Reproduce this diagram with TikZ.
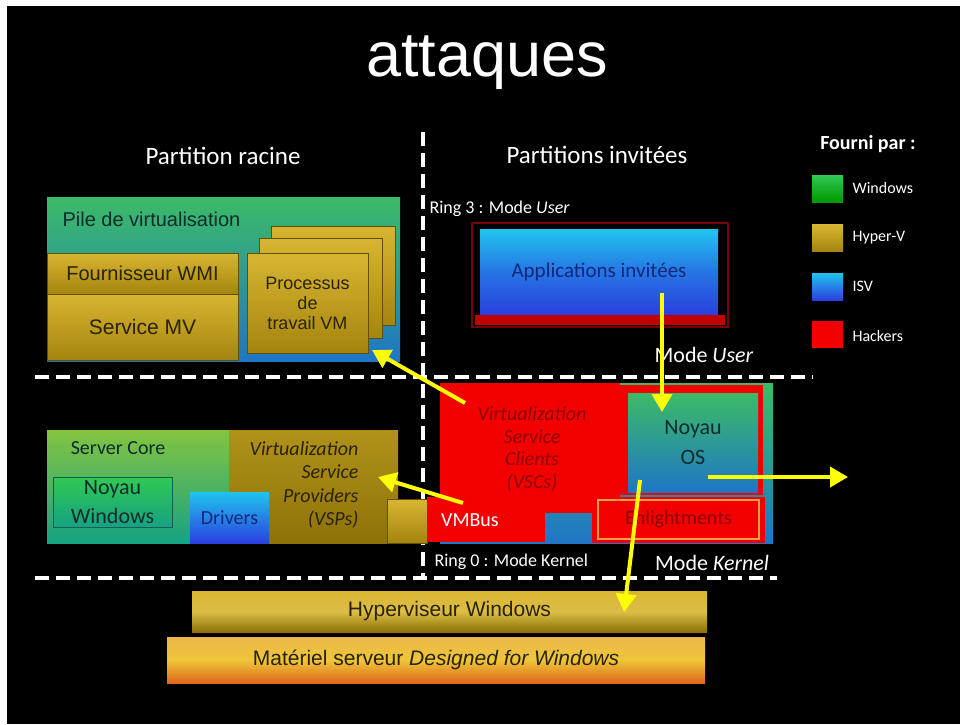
\documentclass[tikz,border=0pt]{standalone}
\usepackage{fontspec}
\setmainfont{Carlito}
\newfontfamily\arialfont{Liberation Sans}
\usetikzlibrary{arrows.meta}

\definecolor{wintop}{HTML}{3CBB66}
\definecolor{winbot}{HTML}{1F76C6}
\definecolor{coretop}{HTML}{84C440}
\definecolor{corebot}{HTML}{16A283}
\definecolor{goldtop}{HTML}{D8B632}
\definecolor{goldbot}{HTML}{A4840E}
\definecolor{vsptop}{HTML}{B0921A}
\definecolor{vspbot}{HTML}{8E7208}
\definecolor{isvtop}{HTML}{20C4EE}
\definecolor{isvbot}{HTML}{2A40DE}
\definecolor{hackred}{HTML}{F20000}
\definecolor{darkframe}{HTML}{7A0000}
\definecolor{hwtop}{HTML}{EAB848}
\definecolor{hwbot}{HTML}{E0661A}
\definecolor{inkdark}{HTML}{2A2200}
\definecolor{inkteal}{HTML}{0C2C2C}
\definecolor{inknavy}{HTML}{12287A}
\definecolor{inkred}{HTML}{8E0000}
\definecolor{arrowyellow}{HTML}{FFFF00}
\definecolor{enlorange}{HTML}{FFA040}

\tikzset{
  blk/.style={
      rectangle,
      inner sep=0pt,
      outer sep=0pt
    },
  winbox/.style={
      blk,
      top color=wintop,
      bottom color=winbot
    },
  corebox/.style={
      blk,
      top color=coretop,
      bottom color=corebot
    },
  hvbox/.style={
      blk,
      top color=goldtop,
      bottom color=goldbot,
      draw=goldbot!60!black,
      line width=0.8pt
    },
  isvbox/.style={
      blk,
      top color=isvtop,
      bottom color=isvbot
    },
  hackbox/.style={
      blk,
      fill=hackred
    },
  title/.style={
      font=\arialfont\fontsize{63}{63}\selectfont,
      text=white
    },
  head/.style={
      font=\fontsize{25}{28}\selectfont,
      text=white
    },
  small/.style={
      font=\fontsize{18}{20}\selectfont,
      text=white
    },
  legend/.style={
      font=\fontsize{16}{18}\selectfont,
      text=white,
      anchor=west
    },
  mode/.style={
      font=\fontsize{22}{24}\selectfont,
      text=white
    },
  sepline/.style={
      white,
      line width=4.5pt,
      dash pattern=on 14pt off 7pt
    },
  yarr/.style={
      -{Triangle[length=18pt,width=20pt]},
      line width=4pt,
      arrowyellow
    }
}

\begin{document}
\begin{tikzpicture}[x=1pt,y=-1pt]
  \useasboundingbox (0,0) rectangle (960,724);
  \fill[white] (0,0) rectangle (960,724);
  \fill[black] (7,6) rectangle (960,724);

  \node[title] (ttl) at (487,63) {attaques};
  \node[head] (rootlbl) at (223,156) {Partition racine};
  \node[head] (guestlbl) at (597,155) {Partitions invitées};

  % separations
  \draw[sepline] (423,132) -- (423,578);
  \draw[sepline] (35,377) -- (813,377);
  \draw[sepline] (35,578) -- (777,578);

  % partition racine, mode user
  \node[winbox, minimum width=353, minimum height=164] (pile) at (223.5,279) {};
  \node[anchor=west, font=\arialfont\fontsize{20}{22}\selectfont, text=inkteal] (pilelbl) at (59,219) {Pile de virtualisation};
  \node[hvbox, minimum width=191, minimum height=41, font=\arialfont\fontsize{20}{22}\selectfont, text=inkdark] (wmi) at (142.5,273.5) {Fournisseur WMI};
  \node[hvbox, minimum width=191, minimum height=66, font=\arialfont\fontsize{21}{22}\selectfont, text=inkdark] (svcmv) at (142.5,327) {Service MV};
  \node[hvbox, minimum width=124, minimum height=99] (proc3) at (333,275.5) {};
  \node[hvbox, minimum width=123, minimum height=100] (proc2) at (320.5,288) {};
  \node[hvbox, minimum width=121, minimum height=100, align=center, font=\arialfont\fontsize{18}{20}\selectfont, text=inkdark] (proc1) at (307.5,303) {Processus\\de\\travail VM};

  % partition racine, mode kernel
  \node[corebox, minimum width=183, minimum height=113] (core) at (138.5,486.5) {};
  \node[font=\fontsize{20}{22}\selectfont, text=inkteal] (corelbl) at (118,448) {Server Core};
  \node[blk, fill=green!55!black!90, top color=wintop!80!green, bottom color=corebot, draw=corebot!60!black, line width=1pt, minimum width=119, minimum height=50, align=center, font=\fontsize{22}{29}\selectfont, text=inkteal] (ntwin) at (112.5,502) {Noyau\\Windows};
  \node[blk, top color=vsptop, bottom color=vspbot, minimum width=169, minimum height=113] (vsp) at (313.5,486.5) {};
  \node[anchor=east, align=right, font=\itshape\fontsize{20}{23.5}\selectfont, text=inkdark] (vsplbl) at (362,485) {Virtualization\\Service\\Providers\\(VSPs)};
  \node[isvbox, minimum width=79, minimum height=51, font=\fontsize{20}{22}\selectfont, text=inknavy] (drv) at (229.5,517.5) {Drivers};
  \node[hvbox, minimum width=40, minimum height=44] (vmbroot) at (407,521) {};

  % partitions invitees, mode user
  \node[small, anchor=west] (ring3) at (426,209) {Ring 3 : Mode \textit{User}};
  \node[blk, fill=black, draw=darkframe, line width=2pt, minimum width=256, minimum height=104] (appsframe) at (600,275) {};
  \node[blk, fill=hackred!80!black, minimum width=250, minimum height=10] (appsstrip) at (600,320) {};
  \node[blk, top color=isvtop, bottom color=isvbot, middle color=isvbot!60!isvtop, minimum width=238, minimum height=85, font=\fontsize{21}{22}\selectfont, text=inknavy] (apps) at (599,272) {Applications invitées};
  \node[mode] (modeuser) at (704,355) {Mode \textit{User}};

  % partitions invitees, mode kernel
  \node[winbox, minimum width=333, minimum height=160] (kbg) at (606.5,463) {};
  \node[hackbox, minimum width=180, minimum height=130] (vsc) at (530,448) {};
  \node[align=center, font=\itshape\fontsize{20}{22.5}\selectfont, text=inkred] (vsclbl) at (532,449) {Virtualization\\Service\\Clients\\(VSCs)};
  \node[hackbox, minimum width=143, minimum height=110] (noyauframe) at (691.5,440) {};
  \node[winbox, minimum width=130, minimum height=99, align=center, font=\fontsize{22}{30}\selectfont, text=inkteal] (noyau) at (693,442.5) {Noyau\\OS};
  \node[hackbox, minimum width=118, minimum height=45] (vmbus) at (486,519.5) {};
  \node[font=\fontsize{20}{22}\selectfont, text=white] (vmbuslbl) at (470,520) {VMBus};
  \node[hackbox, minimum width=173, minimum height=46] (enlframe) at (678.5,520) {};
  \node[hackbox, draw=enlorange, line width=2.5pt, minimum width=161, minimum height=39, font=\fontsize{20}{22}\selectfont, text=inkred] (enl) at (678.5,519.5) {Enlightments};
  \node[small, anchor=west] (ring0) at (431,562) {Ring 0 : Mode Kernel};
  \node[mode] (modekernel) at (712,563) {Mode \textit{Kernel}};

  % hyperviseur et materiel
  \node[blk, top color=goldtop, bottom color=vspbot, middle color=goldtop!90!white, minimum width=515, minimum height=41, font=\arialfont\fontsize{21}{22}\selectfont, text=inkdark] (hyp) at (449.5,611.5) {Hyperviseur Windows};
  \node[blk, top color=hwtop, bottom color=hwbot, middle color=hwtop!80!yellow, minimum width=538, minimum height=46, font=\arialfont\fontsize{21}{22}\selectfont, text=inkdark] (hw) at (436,660) {Matériel serveur \textit{Designed for Windows}};

  % legende
  \node[font=\bfseries\fontsize{20}{22}\selectfont, text=white] (legtitle) at (868,144) {Fourni par :};
  \node[winbox, minimum width=31, minimum height=27, top color=wintop!80!green, bottom color=green!60!black] (legwin) at (827.5,188.5) {};
  \node[legend] (legwinlbl) at (849,188) {Windows};
  \node[blk, top color=goldtop, bottom color=goldbot, minimum width=31, minimum height=27] (leghv) at (827.5,238) {};
  \node[legend] (leghvlbl) at (849,238) {Hyper-V};
  \node[isvbox, minimum width=31, minimum height=27] (legisv) at (827.5,286.5) {};
  \node[legend] (legisvlbl) at (849,286) {ISV};
  \node[hackbox, minimum width=31, minimum height=27] (leghack) at (827.5,334.5) {};
  \node[legend] (leghacklbl) at (849,336) {Hackers};

  % attaques
  \coordinate (vsc-a) at (465,403);
  \coordinate (proc-in) at (372,350);
  \coordinate (vmbus-a) at (463,503);
  \coordinate (vsp-in) at (378,477);
  \coordinate (apps-a) at (662,293);
  \coordinate (noyau-in) at (662,412);
  \coordinate (noyau-a) at (708,477);
  \coordinate (outside) at (848,477);
  \coordinate (noyau-b) at (640,480);
  \coordinate (hyp-in) at (624,612);
  \draw[yarr] (vsc-a) -- (proc-in);
  \draw[yarr] (vmbus-a) -- (vsp-in);
  \draw[yarr] (apps-a) -- (noyau-in);
  \draw[yarr] (noyau-a) -- (outside);
  \draw[yarr] (noyau-b) -- (hyp-in);
\end{tikzpicture}
\end{document}
